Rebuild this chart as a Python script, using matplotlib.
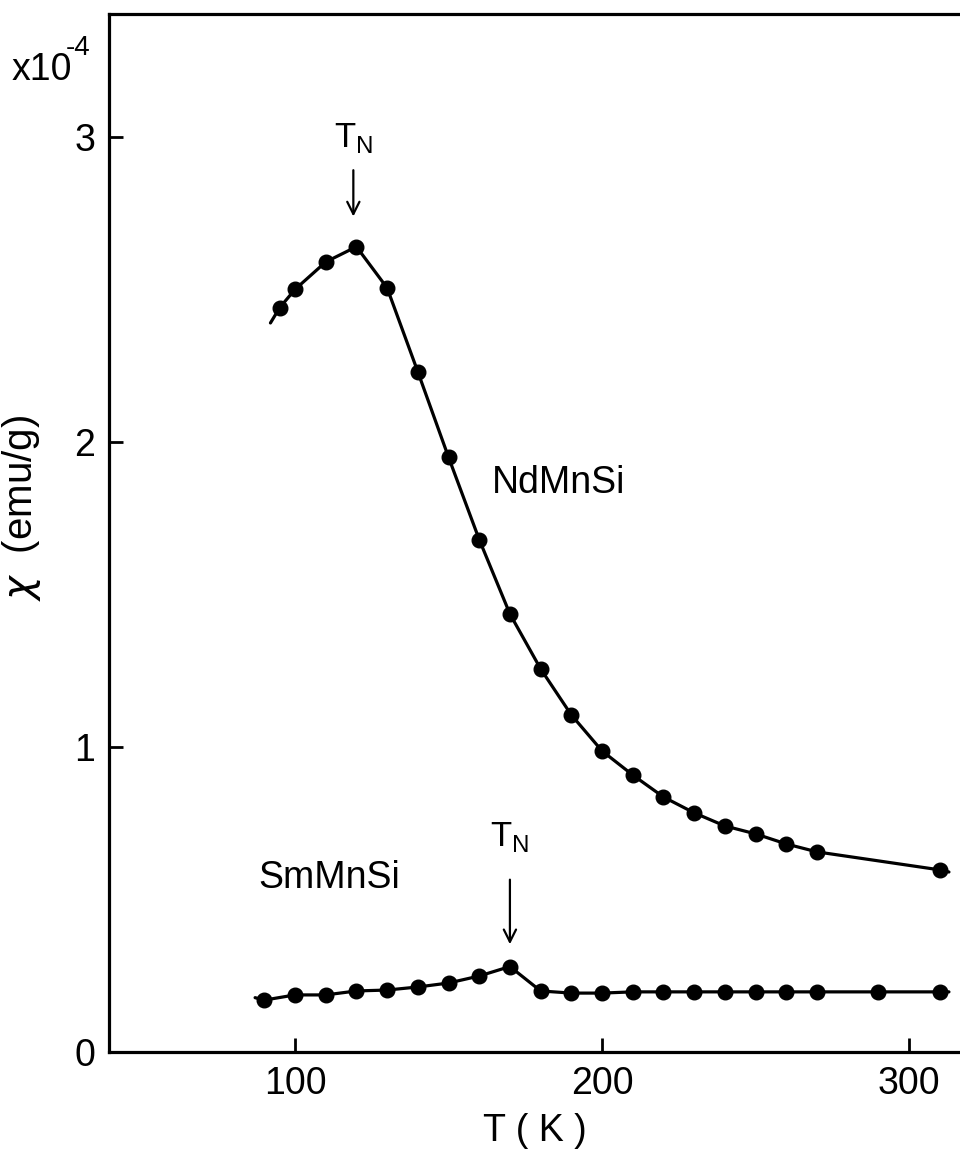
import numpy as np
import matplotlib.pyplot as plt

plt.rcParams['font.family'] = ['Liberation Sans', 'DejaVu Sans']

############# Data ###############
# susceptibility in units of 1e-4 emu/g
T_nd = [95, 100, 110, 120, 130, 140, 150, 160, 170, 180, 190, 200,
        210, 220, 230, 240, 250, 260, 270, 310]
chi_nd = [2.44, 2.50, 2.59, 2.64, 2.505, 2.23, 1.95, 1.68, 1.436, 1.256,
          1.105, 0.987, 0.908, 0.836, 0.784, 0.741, 0.715, 0.682, 0.656, 0.597]

T_sm = [90, 100, 110, 120, 130, 140, 150, 160, 170, 180, 190, 200, 210,
        220, 230, 240, 250, 260, 270, 290, 310]
chi_sm = [0.17, 0.187, 0.187, 0.20, 0.203, 0.213, 0.226, 0.249, 0.28, 0.20,
          0.193, 0.193, 0.197, 0.197, 0.197, 0.197, 0.197, 0.197, 0.197,
          0.197, 0.197]

# the drawn curves run a little past the first and last points
nd_ends = [(92, 2.39), (313, 0.59)]
sm_ends = [(87, 0.178), (313, 0.197)]

# Neel temperatures marked with arrows
TN_nd = 119
TN_sm = 170

xticks = [100, 200, 300]
yticks = [0, 1, 2, 3]

######################
# Plot
######################
fig = plt.figure(figsize=[9.6, 11.56], dpi=100)
ax = fig.add_axes([0.1135, 0.09, 0.8865, 0.8979])

def curve(T, chi, ends):
    x = [ends[0][0]] + list(T) + [ends[1][0]]
    y = [ends[0][1]] + list(chi) + [ends[1][1]]
    ax.plot(x, y, color='black', lw=2.3, solid_capstyle='round', zorder=2)
    ax.plot(T, chi, 'o', color='black', ms=10.5, zorder=3)

curve(T_nd, chi_nd, nd_ends)
curve(T_sm, chi_sm, sm_ends)

ax.set_xlim(39.4, 316.6)
ax.set_ylim(0, 3.403)
ax.set_xticks(xticks)
ax.set_yticks(yticks)
ax.tick_params(direction='in', length=10, width=2, labelsize=27, pad=10)
ax.spines['right'].set_visible(False)
for s in ['left', 'top', 'bottom']:
    ax.spines[s].set_linewidth(2.3)

ax.set_xlabel('T ( K )', fontsize=27, labelpad=8)
ax.set_ylabel(r'$\chi$  (emu/g)', fontsize=29)
ax.yaxis.set_label_coords(-0.078, 0.524)

# scale factor
fig.text(12 / 960, 1 - 80 / 1156, 'x10', fontsize=27, ha='left', va='baseline')
fig.text(66 / 960, 1 - 55 / 1156, '-4', fontsize=20, ha='left', va='baseline')

# sample labels
ax.text(186, 1.865, 'NdMnSi', fontsize=27, ha='center', va='center')
ax.text(111, 0.571, 'SmMnSi', fontsize=27, ha='center', va='center')

# T_N markers
arrow = dict(arrowstyle='->', color='black', lw=1.6, mutation_scale=22)
ax.annotate('', xy=(TN_nd, 2.73), xytext=(TN_nd, 2.90), arrowprops=arrow)
ax.annotate('', xy=(TN_sm, 0.344), xytext=(TN_sm, 0.574), arrowprops=arrow)
ax.text(TN_nd, 2.995, r'T$_\mathregular{N}$', fontsize=25, ha='center', va='center')
ax.text(TN_sm, 0.705, r'T$_\mathregular{N}$', fontsize=25, ha='center', va='center')

plt.savefig('out.png', dpi=100)
